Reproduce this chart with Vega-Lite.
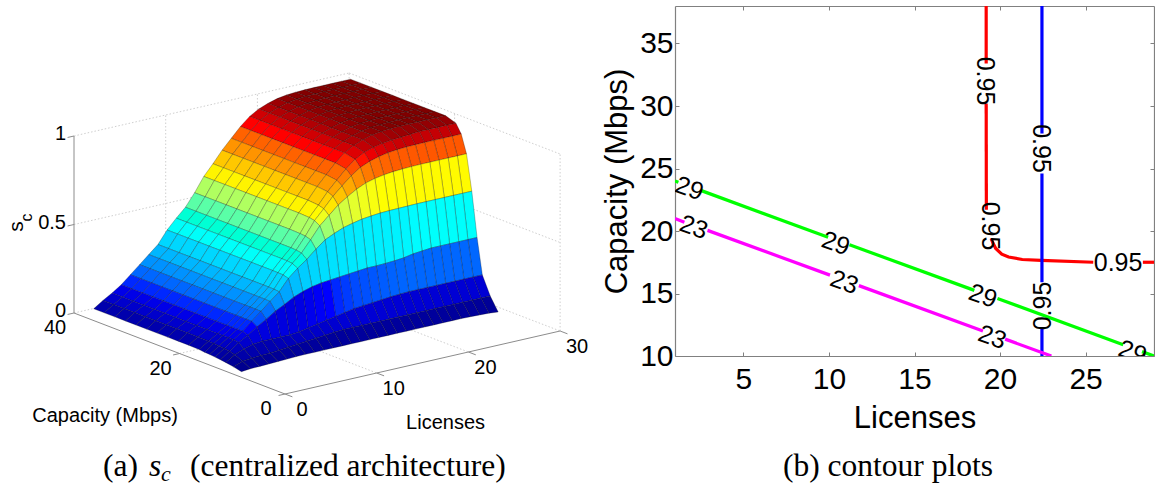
{"$schema":"https://vega.github.io/schema/vega-lite/v6.json","background":"white","padding":{"left":0,"top":5,"right":0,"bottom":0},"spacing":75,"bounds":"flush","config":{"view":{"stroke":null},"font":"Liberation Sans","axis":{"grid":false}},
"datasets":{
"frame":[
{"id":"g1","kind":"grid","L":0,"C":40,"s":1},{"id":"g1","kind":"grid","L":30,"C":40,"s":1},
{"id":"g2","kind":"grid","L":0,"C":40,"s":0.5},{"id":"g2","kind":"grid","L":30,"C":40,"s":0.5},
{"id":"g3","kind":"grid","L":10,"C":40,"s":0},{"id":"g3","kind":"grid","L":10,"C":40,"s":1},
{"id":"g4","kind":"grid","L":20,"C":40,"s":0},{"id":"g4","kind":"grid","L":20,"C":40,"s":1},
{"id":"g5","kind":"grid","L":30,"C":40,"s":0},{"id":"g5","kind":"grid","L":30,"C":40,"s":1},
{"id":"g6","kind":"grid","L":30,"C":40,"s":1},{"id":"g6","kind":"grid","L":30,"C":0,"s":1},
{"id":"g7","kind":"grid","L":30,"C":40,"s":0.5},{"id":"g7","kind":"grid","L":30,"C":0,"s":0.5},
{"id":"g8","kind":"grid","L":30,"C":20,"s":0},{"id":"g8","kind":"grid","L":30,"C":20,"s":1},
{"id":"g9","kind":"grid","L":30,"C":0,"s":0},{"id":"g9","kind":"grid","L":30,"C":0,"s":1},
{"id":"g10","kind":"grid","L":10,"C":0,"s":0},{"id":"g10","kind":"grid","L":10,"C":40,"s":0},
{"id":"g11","kind":"grid","L":20,"C":0,"s":0},{"id":"g11","kind":"grid","L":20,"C":40,"s":0},
{"id":"g12","kind":"grid","L":0,"C":20,"s":0},{"id":"g12","kind":"grid","L":30,"C":20,"s":0},
{"id":"g13","kind":"grid","L":0,"C":40,"s":0},{"id":"g13","kind":"grid","L":30,"C":40,"s":0},
{"id":"g14","kind":"grid","L":30,"C":0,"s":0},{"id":"g14","kind":"grid","L":30,"C":40,"s":0},
{"id":"a1","kind":"axis","L":0,"C":40,"s":0},{"id":"a1","kind":"axis","L":0,"C":0,"s":0},
{"id":"a2","kind":"axis","L":0,"C":0,"s":0},{"id":"a2","kind":"axis","L":30,"C":0,"s":0},
{"id":"a3","kind":"axis","L":0,"C":40,"s":0},{"id":"a3","kind":"axis","L":0,"C":40,"s":1},
{"id":"t1","kind":"axis","L":0,"C":40,"s":0},{"id":"t1","kind":"axis","L":-0.7,"C":40,"s":0},
{"id":"t2","kind":"axis","L":0,"C":40,"s":0.5},{"id":"t2","kind":"axis","L":-0.7,"C":40,"s":0.5},
{"id":"t3","kind":"axis","L":0,"C":40,"s":1},{"id":"t3","kind":"axis","L":-0.7,"C":40,"s":1},
{"id":"t4","kind":"axis","L":0,"C":20,"s":0},{"id":"t4","kind":"axis","L":-0.7,"C":20,"s":0},
{"id":"t5","kind":"axis","L":0,"C":0,"s":0},{"id":"t5","kind":"axis","L":-0.7,"C":0,"s":0},
{"id":"t6","kind":"axis","L":0,"C":0,"s":0},{"id":"t6","kind":"axis","L":0,"C":-1.4,"s":0},
{"id":"t7","kind":"axis","L":10,"C":0,"s":0},{"id":"t7","kind":"axis","L":10,"C":-1.4,"s":0},
{"id":"t8","kind":"axis","L":20,"C":0,"s":0},{"id":"t8","kind":"axis","L":20,"C":-1.4,"s":0},
{"id":"t9","kind":"axis","L":30,"C":0,"s":0},{"id":"t9","kind":"axis","L":30,"C":-1.4,"s":0},
{"kind":"zt","t":"0","L":0,"C":40,"s":0},{"kind":"zt","t":"0.5","L":0,"C":40,"s":0.5},{"kind":"zt","t":"1","L":0,"C":40,"s":1},
{"kind":"ct","t":"0","L":0,"C":0,"s":0},{"kind":"ct","t":"20","L":0,"C":20,"s":0},{"kind":"ct","t":"40","L":0,"C":40,"s":0},
{"kind":"lt","t":"0","L":0,"C":0,"s":0},{"kind":"lt","t":"10","L":10,"C":0,"s":0},{"kind":"lt","t":"20","L":20,"C":0,"s":0},{"kind":"lt","t":"30","L":30,"C":0,"s":0},
{"kind":"tc","t":"Capacity (Mbps)","L":0,"C":20,"s":0},{"kind":"tl","t":"Licenses","L":15,"C":0,"s":0},
{"kind":"ts","t":"s","L":0,"C":40,"s":0.5},{"kind":"tz","t":"c","L":0,"C":40,"s":0.5},
{"kind":"cap1","t":"(a)","L":0,"C":0,"s":0},{"kind":"cap2","t":"s","L":0,"C":0,"s":0},{"kind":"cap3","t":"c","L":0,"C":0,"s":0},{"kind":"cap4","t":"(centralized architecture)","L":0,"C":0,"s":0},{"kind":"cap5","t":"(b) contour plots","L":0,"C":0,"s":0}
],
"grid":[
{"L":29,"C":38,"s":1},{"L":29,"C":36,"s":1},{"L":29,"C":34,"s":1},{"L":29,"C":32,"s":1},{"L":29,"C":30,"s":1},{"L":29,"C":28,"s":1},{"L":29,"C":26,"s":1},{"L":29,"C":24,"s":1},{"L":29,"C":22,"s":1},{"L":29,"C":20,"s":1},{"L":29,"C":18,"s":0.98},{"L":29,"C":17,"s":0.93},{"L":29,"C":16,"s":0.83},{"L":29,"C":15,"s":0.63},{"L":29,"C":14,"s":0.38},{"L":29,"C":13,"s":0.18},{"L":29,"C":11.5,"s":0.078},{"L":29,"C":10,"s":0.005},
{"L":28,"C":38,"s":1},{"L":28,"C":36,"s":1},{"L":28,"C":34,"s":1},{"L":28,"C":32,"s":1},{"L":28,"C":30,"s":1},{"L":28,"C":28,"s":1},{"L":28,"C":26,"s":1},{"L":28,"C":24,"s":1},{"L":28,"C":22,"s":1},{"L":28,"C":20,"s":1},{"L":28,"C":18,"s":0.98},{"L":28,"C":17,"s":0.93},{"L":28,"C":16,"s":0.83},{"L":28,"C":15,"s":0.63},{"L":28,"C":14,"s":0.38},{"L":28,"C":13,"s":0.18},{"L":28,"C":11.5,"s":0.078},{"L":28,"C":10,"s":0.01},
{"L":27,"C":38,"s":1},{"L":27,"C":36,"s":1},{"L":27,"C":34,"s":1},{"L":27,"C":32,"s":1},{"L":27,"C":30,"s":1},{"L":27,"C":28,"s":1},{"L":27,"C":26,"s":1},{"L":27,"C":24,"s":1},{"L":27,"C":22,"s":1},{"L":27,"C":20,"s":1},{"L":27,"C":18,"s":0.98},{"L":27,"C":17,"s":0.93},{"L":27,"C":16,"s":0.83},{"L":27,"C":15,"s":0.63},{"L":27,"C":14,"s":0.38},{"L":27,"C":13,"s":0.18},{"L":27,"C":11.5,"s":0.078},{"L":27,"C":10,"s":0.012},
{"L":26,"C":38,"s":1},{"L":26,"C":36,"s":1},{"L":26,"C":34,"s":1},{"L":26,"C":32,"s":1},{"L":26,"C":30,"s":1},{"L":26,"C":28,"s":1},{"L":26,"C":26,"s":1},{"L":26,"C":24,"s":1},{"L":26,"C":22,"s":1},{"L":26,"C":20,"s":1},{"L":26,"C":18,"s":0.98},{"L":26,"C":17,"s":0.93},{"L":26,"C":16,"s":0.83},{"L":26,"C":15,"s":0.63},{"L":26,"C":14,"s":0.38},{"L":26,"C":13,"s":0.18},{"L":26,"C":11.5,"s":0.078},{"L":26,"C":10,"s":0.014},
{"L":25,"C":38,"s":1},{"L":25,"C":36,"s":1},{"L":25,"C":34,"s":1},{"L":25,"C":32,"s":1},{"L":25,"C":30,"s":1},{"L":25,"C":28,"s":1},{"L":25,"C":26,"s":1},{"L":25,"C":24,"s":1},{"L":25,"C":22,"s":1},{"L":25,"C":20,"s":1},{"L":25,"C":18,"s":0.98},{"L":25,"C":17,"s":0.93},{"L":25,"C":16,"s":0.83},{"L":25,"C":15,"s":0.63},{"L":25,"C":14,"s":0.38},{"L":25,"C":13,"s":0.18},{"L":25,"C":11.5,"s":0.078},{"L":25,"C":10,"s":0.015},
{"L":24,"C":38,"s":0.999},{"L":24,"C":36,"s":0.999},{"L":24,"C":34,"s":0.999},{"L":24,"C":32,"s":0.999},{"L":24,"C":30,"s":0.999},{"L":24,"C":28,"s":0.999},{"L":24,"C":26,"s":0.999},{"L":24,"C":24,"s":0.999},{"L":24,"C":22,"s":0.999},{"L":24,"C":20,"s":0.999},{"L":24,"C":18,"s":0.976},{"L":24,"C":17,"s":0.929},{"L":24,"C":16,"s":0.83},{"L":24,"C":15,"s":0.63},{"L":24,"C":14,"s":0.38},{"L":24,"C":13,"s":0.18},{"L":24,"C":11.5,"s":0.078},{"L":24,"C":10,"s":0.015},
{"L":23,"C":38,"s":0.997},{"L":23,"C":36,"s":0.997},{"L":23,"C":34,"s":0.997},{"L":23,"C":32,"s":0.997},{"L":23,"C":30,"s":0.997},{"L":23,"C":28,"s":0.997},{"L":23,"C":26,"s":0.997},{"L":23,"C":24,"s":0.997},{"L":23,"C":22,"s":0.997},{"L":23,"C":20,"s":0.997},{"L":23,"C":18,"s":0.972},{"L":23,"C":17,"s":0.928},{"L":23,"C":16,"s":0.829},{"L":23,"C":15,"s":0.63},{"L":23,"C":14,"s":0.375},{"L":23,"C":13,"s":0.18},{"L":23,"C":11.5,"s":0.078},{"L":23,"C":10,"s":0.015},
{"L":22,"C":38,"s":0.993},{"L":22,"C":36,"s":0.993},{"L":22,"C":34,"s":0.993},{"L":22,"C":32,"s":0.993},{"L":22,"C":30,"s":0.993},{"L":22,"C":28,"s":0.993},{"L":22,"C":26,"s":0.993},{"L":22,"C":24,"s":0.993},{"L":22,"C":22,"s":0.993},{"L":22,"C":20,"s":0.993},{"L":22,"C":18,"s":0.968},{"L":22,"C":17,"s":0.925},{"L":22,"C":16,"s":0.827},{"L":22,"C":15,"s":0.629},{"L":22,"C":14,"s":0.37},{"L":22,"C":13,"s":0.18},{"L":22,"C":11.5,"s":0.078},{"L":22,"C":10,"s":0.015},
{"L":21,"C":38,"s":0.985},{"L":21,"C":36,"s":0.985},{"L":21,"C":34,"s":0.985},{"L":21,"C":32,"s":0.985},{"L":21,"C":30,"s":0.985},{"L":21,"C":28,"s":0.985},{"L":21,"C":26,"s":0.985},{"L":21,"C":24,"s":0.985},{"L":21,"C":22,"s":0.985},{"L":21,"C":20,"s":0.985},{"L":21,"C":18,"s":0.961},{"L":21,"C":17,"s":0.919},{"L":21,"C":16,"s":0.824},{"L":21,"C":15,"s":0.628},{"L":21,"C":14,"s":0.36},{"L":21,"C":13,"s":0.18},{"L":21,"C":11.5,"s":0.078},{"L":21,"C":10,"s":0.015},
{"L":20,"C":38,"s":0.97},{"L":20,"C":36,"s":0.97},{"L":20,"C":34,"s":0.97},{"L":20,"C":32,"s":0.97},{"L":20,"C":30,"s":0.97},{"L":20,"C":28,"s":0.97},{"L":20,"C":26,"s":0.97},{"L":20,"C":24,"s":0.97},{"L":20,"C":22,"s":0.97},{"L":20,"C":20,"s":0.97},{"L":20,"C":18,"s":0.951},{"L":20,"C":17,"s":0.909},{"L":20,"C":16,"s":0.818},{"L":20,"C":15,"s":0.627},{"L":20,"C":14,"s":0.355},{"L":20,"C":13,"s":0.178},{"L":20,"C":11.5,"s":0.078},{"L":20,"C":10,"s":0.015},
{"L":19,"C":38,"s":0.95},{"L":19,"C":36,"s":0.95},{"L":19,"C":34,"s":0.95},{"L":19,"C":32,"s":0.95},{"L":19,"C":30,"s":0.95},{"L":19,"C":28,"s":0.95},{"L":19,"C":26,"s":0.95},{"L":19,"C":24,"s":0.95},{"L":19,"C":22,"s":0.95},{"L":19,"C":20,"s":0.95},{"L":19,"C":18,"s":0.934},{"L":19,"C":17,"s":0.894},{"L":19,"C":16,"s":0.809},{"L":19,"C":15,"s":0.625},{"L":19,"C":14,"s":0.352},{"L":19,"C":13,"s":0.175},{"L":19,"C":11.5,"s":0.078},{"L":19,"C":10,"s":0.015},
{"L":18,"C":38,"s":0.92},{"L":18,"C":36,"s":0.92},{"L":18,"C":34,"s":0.92},{"L":18,"C":32,"s":0.92},{"L":18,"C":30,"s":0.92},{"L":18,"C":28,"s":0.92},{"L":18,"C":26,"s":0.92},{"L":18,"C":24,"s":0.92},{"L":18,"C":22,"s":0.92},{"L":18,"C":20,"s":0.92},{"L":18,"C":18,"s":0.906},{"L":18,"C":17,"s":0.872},{"L":18,"C":16,"s":0.795},{"L":18,"C":15,"s":0.62},{"L":18,"C":14,"s":0.35},{"L":18,"C":13,"s":0.17},{"L":18,"C":11.5,"s":0.078},{"L":18,"C":10,"s":0.015},
{"L":17,"C":38,"s":0.875},{"L":17,"C":36,"s":0.875},{"L":17,"C":34,"s":0.875},{"L":17,"C":32,"s":0.875},{"L":17,"C":30,"s":0.875},{"L":17,"C":28,"s":0.875},{"L":17,"C":26,"s":0.875},{"L":17,"C":24,"s":0.875},{"L":17,"C":22,"s":0.875},{"L":17,"C":20,"s":0.875},{"L":17,"C":18,"s":0.864},{"L":17,"C":17,"s":0.837},{"L":17,"C":16,"s":0.772},{"L":17,"C":15,"s":0.614},{"L":17,"C":14,"s":0.35},{"L":17,"C":13,"s":0.165},{"L":17,"C":11.5,"s":0.078},{"L":17,"C":10,"s":0.015},
{"L":16,"C":38,"s":0.82},{"L":16,"C":36,"s":0.82},{"L":16,"C":34,"s":0.82},{"L":16,"C":32,"s":0.82},{"L":16,"C":30,"s":0.82},{"L":16,"C":28,"s":0.82},{"L":16,"C":26,"s":0.82},{"L":16,"C":24,"s":0.82},{"L":16,"C":22,"s":0.82},{"L":16,"C":20,"s":0.82},{"L":16,"C":18,"s":0.812},{"L":16,"C":17,"s":0.791},{"L":16,"C":16,"s":0.741},{"L":16,"C":15,"s":0.603},{"L":16,"C":14,"s":0.345},{"L":16,"C":13,"s":0.16},{"L":16,"C":11.5,"s":0.078},{"L":16,"C":10,"s":0.015},
{"L":15,"C":38,"s":0.765},{"L":15,"C":36,"s":0.765},{"L":15,"C":34,"s":0.765},{"L":15,"C":32,"s":0.765},{"L":15,"C":30,"s":0.765},{"L":15,"C":28,"s":0.765},{"L":15,"C":26,"s":0.765},{"L":15,"C":24,"s":0.765},{"L":15,"C":22,"s":0.765},{"L":15,"C":20,"s":0.765},{"L":15,"C":18,"s":0.759},{"L":15,"C":17,"s":0.744},{"L":15,"C":16,"s":0.706},{"L":15,"C":15,"s":0.59},{"L":15,"C":14,"s":0.34},{"L":15,"C":13,"s":0.155},{"L":15,"C":11.5,"s":0.078},{"L":15,"C":10,"s":0.015},
{"L":14,"C":38,"s":0.7},{"L":14,"C":36,"s":0.7},{"L":14,"C":34,"s":0.7},{"L":14,"C":32,"s":0.7},{"L":14,"C":30,"s":0.7},{"L":14,"C":28,"s":0.7},{"L":14,"C":26,"s":0.7},{"L":14,"C":24,"s":0.7},{"L":14,"C":22,"s":0.7},{"L":14,"C":20,"s":0.7},{"L":14,"C":18,"s":0.695},{"L":14,"C":17,"s":0.686},{"L":14,"C":16,"s":0.66},{"L":14,"C":15,"s":0.569},{"L":14,"C":14,"s":0.335},{"L":14,"C":13,"s":0.145},{"L":14,"C":11.5,"s":0.078},{"L":14,"C":10,"s":0.015},
{"L":13,"C":38,"s":0.64},{"L":13,"C":36,"s":0.64},{"L":13,"C":34,"s":0.64},{"L":13,"C":32,"s":0.64},{"L":13,"C":30,"s":0.64},{"L":13,"C":28,"s":0.64},{"L":13,"C":26,"s":0.64},{"L":13,"C":24,"s":0.64},{"L":13,"C":22,"s":0.64},{"L":13,"C":20,"s":0.64},{"L":13,"C":18,"s":0.637},{"L":13,"C":17,"s":0.631},{"L":13,"C":16,"s":0.613},{"L":13,"C":15,"s":0.545},{"L":13,"C":14,"s":0.33},{"L":13,"C":13,"s":0.135},{"L":13,"C":11.5,"s":0.078},{"L":13,"C":10,"s":0.015},
{"L":12,"C":38,"s":0.56},{"L":12,"C":36,"s":0.56},{"L":12,"C":34,"s":0.56},{"L":12,"C":32,"s":0.56},{"L":12,"C":30,"s":0.56},{"L":12,"C":28,"s":0.56},{"L":12,"C":26,"s":0.56},{"L":12,"C":24,"s":0.56},{"L":12,"C":22,"s":0.56},{"L":12,"C":20,"s":0.56},{"L":12,"C":18,"s":0.558},{"L":12,"C":17,"s":0.555},{"L":12,"C":16,"s":0.546},{"L":12,"C":15,"s":0.504},{"L":12,"C":14,"s":0.325},{"L":12,"C":13,"s":0.125},{"L":12,"C":11.5,"s":0.075},{"L":12,"C":10,"s":0.015},
{"L":11,"C":38,"s":0.49},{"L":11,"C":36,"s":0.49},{"L":11,"C":34,"s":0.49},{"L":11,"C":32,"s":0.49},{"L":11,"C":30,"s":0.49},{"L":11,"C":28,"s":0.49},{"L":11,"C":26,"s":0.49},{"L":11,"C":24,"s":0.49},{"L":11,"C":22,"s":0.49},{"L":11,"C":20,"s":0.49},{"L":11,"C":18,"s":0.49},{"L":11,"C":17,"s":0.488},{"L":11,"C":16,"s":0.483},{"L":11,"C":15,"s":0.458},{"L":11,"C":14,"s":0.315},{"L":11,"C":13,"s":0.115},{"L":11,"C":11.5,"s":0.07},{"L":11,"C":10,"s":0.015},
{"L":10,"C":38,"s":0.44},{"L":10,"C":36,"s":0.44},{"L":10,"C":34,"s":0.44},{"L":10,"C":32,"s":0.44},{"L":10,"C":30,"s":0.44},{"L":10,"C":28,"s":0.44},{"L":10,"C":26,"s":0.44},{"L":10,"C":24,"s":0.44},{"L":10,"C":22,"s":0.44},{"L":10,"C":20,"s":0.44},{"L":10,"C":18,"s":0.44},{"L":10,"C":17,"s":0.439},{"L":10,"C":16,"s":0.436},{"L":10,"C":15,"s":0.42},{"L":10,"C":14,"s":0.3},{"L":10,"C":13,"s":0.105},{"L":10,"C":11.5,"s":0.065},{"L":10,"C":10,"s":0.015},
{"L":9,"C":38,"s":0.385},{"L":9,"C":36,"s":0.385},{"L":9,"C":34,"s":0.385},{"L":9,"C":32,"s":0.385},{"L":9,"C":30,"s":0.385},{"L":9,"C":28,"s":0.385},{"L":9,"C":26,"s":0.385},{"L":9,"C":24,"s":0.385},{"L":9,"C":22,"s":0.385},{"L":9,"C":20,"s":0.385},{"L":9,"C":18,"s":0.385},{"L":9,"C":17,"s":0.384},{"L":9,"C":16,"s":0.383},{"L":9,"C":15,"s":0.374},{"L":9,"C":14,"s":0.28},{"L":9,"C":13,"s":0.095},{"L":9,"C":11.5,"s":0.06},{"L":9,"C":10,"s":0.015},
{"L":8,"C":38,"s":0.315},{"L":8,"C":36,"s":0.315},{"L":8,"C":34,"s":0.315},{"L":8,"C":32,"s":0.315},{"L":8,"C":30,"s":0.315},{"L":8,"C":28,"s":0.315},{"L":8,"C":26,"s":0.315},{"L":8,"C":24,"s":0.315},{"L":8,"C":22,"s":0.315},{"L":8,"C":20,"s":0.315},{"L":8,"C":18,"s":0.315},{"L":8,"C":17,"s":0.315},{"L":8,"C":16,"s":0.314},{"L":8,"C":15,"s":0.311},{"L":8,"C":14,"s":0.25},{"L":8,"C":13,"s":0.09},{"L":8,"C":11.5,"s":0.055},{"L":8,"C":10,"s":0.015},
{"L":7,"C":38,"s":0.27},{"L":7,"C":36,"s":0.27},{"L":7,"C":34,"s":0.27},{"L":7,"C":32,"s":0.27},{"L":7,"C":30,"s":0.27},{"L":7,"C":28,"s":0.27},{"L":7,"C":26,"s":0.27},{"L":7,"C":24,"s":0.27},{"L":7,"C":22,"s":0.27},{"L":7,"C":20,"s":0.27},{"L":7,"C":18,"s":0.27},{"L":7,"C":17,"s":0.27},{"L":7,"C":16,"s":0.27},{"L":7,"C":15,"s":0.268},{"L":7,"C":14,"s":0.225},{"L":7,"C":13,"s":0.09},{"L":7,"C":11.5,"s":0.05},{"L":7,"C":10,"s":0.014},
{"L":6,"C":38,"s":0.225},{"L":6,"C":36,"s":0.225},{"L":6,"C":34,"s":0.225},{"L":6,"C":32,"s":0.225},{"L":6,"C":30,"s":0.225},{"L":6,"C":28,"s":0.225},{"L":6,"C":26,"s":0.225},{"L":6,"C":24,"s":0.225},{"L":6,"C":22,"s":0.225},{"L":6,"C":20,"s":0.225},{"L":6,"C":18,"s":0.225},{"L":6,"C":17,"s":0.225},{"L":6,"C":16,"s":0.225},{"L":6,"C":15,"s":0.224},{"L":6,"C":14,"s":0.19},{"L":6,"C":13,"s":0.09},{"L":6,"C":11.5,"s":0.045},{"L":6,"C":10,"s":0.012},
{"L":5,"C":38,"s":0.18},{"L":5,"C":36,"s":0.18},{"L":5,"C":34,"s":0.18},{"L":5,"C":32,"s":0.18},{"L":5,"C":30,"s":0.18},{"L":5,"C":28,"s":0.18},{"L":5,"C":26,"s":0.18},{"L":5,"C":24,"s":0.18},{"L":5,"C":22,"s":0.18},{"L":5,"C":20,"s":0.18},{"L":5,"C":18,"s":0.18},{"L":5,"C":17,"s":0.18},{"L":5,"C":16,"s":0.18},{"L":5,"C":15,"s":0.18},{"L":5,"C":14,"s":0.16},{"L":5,"C":13,"s":0.09},{"L":5,"C":11.5,"s":0.04},{"L":5,"C":10,"s":0.01},
{"L":4,"C":38,"s":0.135},{"L":4,"C":36,"s":0.135},{"L":4,"C":34,"s":0.135},{"L":4,"C":32,"s":0.135},{"L":4,"C":30,"s":0.135},{"L":4,"C":28,"s":0.135},{"L":4,"C":26,"s":0.135},{"L":4,"C":24,"s":0.135},{"L":4,"C":22,"s":0.135},{"L":4,"C":20,"s":0.135},{"L":4,"C":18,"s":0.135},{"L":4,"C":17,"s":0.135},{"L":4,"C":16,"s":0.135},{"L":4,"C":15,"s":0.135},{"L":4,"C":14,"s":0.125},{"L":4,"C":13,"s":0.085},{"L":4,"C":11.5,"s":0.038},{"L":4,"C":10,"s":0.008},
{"L":3,"C":38,"s":0.1},{"L":3,"C":36,"s":0.1},{"L":3,"C":34,"s":0.1},{"L":3,"C":32,"s":0.1},{"L":3,"C":30,"s":0.1},{"L":3,"C":28,"s":0.1},{"L":3,"C":26,"s":0.1},{"L":3,"C":24,"s":0.1},{"L":3,"C":22,"s":0.1},{"L":3,"C":20,"s":0.1},{"L":3,"C":18,"s":0.1},{"L":3,"C":17,"s":0.1},{"L":3,"C":16,"s":0.1},{"L":3,"C":15,"s":0.1},{"L":3,"C":14,"s":0.095},{"L":3,"C":13,"s":0.07},{"L":3,"C":11.5,"s":0.035},{"L":3,"C":10,"s":0.006},
{"L":2,"C":38,"s":0.07},{"L":2,"C":36,"s":0.07},{"L":2,"C":34,"s":0.07},{"L":2,"C":32,"s":0.07},{"L":2,"C":30,"s":0.07},{"L":2,"C":28,"s":0.07},{"L":2,"C":26,"s":0.07},{"L":2,"C":24,"s":0.07},{"L":2,"C":22,"s":0.07},{"L":2,"C":20,"s":0.07},{"L":2,"C":18,"s":0.069},{"L":2,"C":17,"s":0.067},{"L":2,"C":16,"s":0.065},{"L":2,"C":15,"s":0.062},{"L":2,"C":14,"s":0.058},{"L":2,"C":13,"s":0.05},{"L":2,"C":11.5,"s":0.03},{"L":2,"C":10,"s":0.005},
{"L":1,"C":38,"s":0.035},{"L":1,"C":36,"s":0.035},{"L":1,"C":34,"s":0.035},{"L":1,"C":32,"s":0.035},{"L":1,"C":30,"s":0.035},{"L":1,"C":28,"s":0.035},{"L":1,"C":26,"s":0.035},{"L":1,"C":24,"s":0.035},{"L":1,"C":22,"s":0.035},{"L":1,"C":20,"s":0.035},{"L":1,"C":18,"s":0.033},{"L":1,"C":17,"s":0.03},{"L":1,"C":16,"s":0.028},{"L":1,"C":15,"s":0.025},{"L":1,"C":14,"s":0.022},{"L":1,"C":13,"s":0.018},{"L":1,"C":11.5,"s":0.01},{"L":1,"C":10,"s":0}
],
"contours":[
{"level":"A","seg":1,"L":19.19,"C":38},{"level":"A","seg":1,"L":19.19,"C":33.4},
{"level":"A","seg":2,"L":19.19,"C":30.2},{"level":"A","seg":2,"L":19.2,"C":21.7},
{"level":"A","seg":3,"L":19.48,"C":19.4},{"level":"A","seg":3,"L":19.6,"C":19},{"level":"A","seg":3,"L":19.75,"C":18.6},{"level":"A","seg":3,"L":20.1,"C":18.15},{"level":"A","seg":3,"L":20.5,"C":17.92},{"level":"A","seg":3,"L":21.3,"C":17.72},{"level":"A","seg":3,"L":22.4,"C":17.65},{"level":"A","seg":3,"L":25.45,"C":17.5},
{"level":"A","seg":4,"L":28.35,"C":17.5},{"level":"A","seg":4,"L":29,"C":17.5},
{"level":"B","seg":1,"L":22.45,"C":38},{"level":"B","seg":1,"L":22.45,"C":27.8},
{"level":"B","seg":2,"L":22.45,"C":24.6},{"level":"B","seg":2,"L":22.45,"C":15.9},
{"level":"B","seg":3,"L":22.45,"C":12.2},{"level":"B","seg":3,"L":22.45,"C":10},
{"level":"C","seg":1,"L":1,"C":24},{"level":"C","seg":1,"L":1.2,"C":23.9},
{"level":"C","seg":2,"L":2.5,"C":23.25},{"level":"C","seg":2,"L":9.95,"C":19.5},
{"level":"C","seg":3,"L":11.2,"C":18.9},{"level":"C","seg":3,"L":18.5,"C":15.25},
{"level":"C","seg":4,"L":19.85,"C":14.6},{"level":"C","seg":4,"L":27.2,"C":10.9},
{"level":"C","seg":5,"L":28.3,"C":10.35},{"level":"C","seg":5,"L":29,"C":10},
{"level":"D","seg":1,"L":1,"C":21},{"level":"D","seg":1,"L":1.55,"C":20.7},
{"level":"D","seg":2,"L":2.9,"C":20.05},{"level":"D","seg":2,"L":10.06,"C":16.47},
{"level":"D","seg":3,"L":11.75,"C":15.63},{"level":"D","seg":3,"L":19,"C":12},
{"level":"D","seg":4,"L":20.3,"C":11.35},{"level":"D","seg":4,"L":23,"C":10}
],
"clabels":[
{"t":"0.95","L":19.12,"C":32,"o":"down"},{"t":"0.95","L":22.4,"C":26.6,"o":"down"},{"t":"0.95","L":19.4,"C":20.4,"o":"down"},{"t":"0.95","L":22.54,"C":14,"o":"up"},{"t":"0.95","L":26.9,"C":17.44,"o":"flat"},
{"t":"29","L":1.84,"C":23.4,"o":"slope"},{"t":"29","L":10.4,"C":19,"o":"slope"},{"t":"29","L":19,"C":14.8,"o":"slope"},{"t":"29","L":27.75,"C":10.3,"o":"slope"},
{"t":"23","L":2.1,"C":20.3,"o":"slope"},{"t":"23","L":10.9,"C":15.9,"o":"slope"},{"t":"23","L":19.55,"C":11.5,"o":"slope"}
]},
"hconcat":[
{"width":600,"height":481,
"encoding":{"x":{"field":"u","type":"quantitative","scale":{"domain":[0,600],"nice":false,"zero":false},"axis":null},"y":{"field":"v","type":"quantitative","scale":{"domain":[5,486],"reverse":true,"nice":false,"zero":false},"axis":null}},
"layer":[
{"data":{"name":"frame"},"transform":[{"calculate":"285+9.17*datum.L-5.275*datum.C","as":"u"},{"calculate":"393-2.1*datum.L-2.025*datum.C-177*datum.s","as":"v"}],
"layer":[
{"transform":[{"filter":"datum.kind=='grid'"}],"mark":{"type":"line","stroke":"#cfcfcf","strokeWidth":1,"strokeDash":[1.5,2]},"encoding":{"detail":{"field":"id"}}},
{"transform":[{"filter":"datum.kind=='axis'"}],"mark":{"type":"line","stroke":"#8c8c8c","strokeWidth":1},"encoding":{"detail":{"field":"id"}}},
{"transform":[{"filter":"datum.kind=='zt'"}],"mark":{"type":"text","align":"right","baseline":"middle","dx":-8,"dy":-2,"fontSize":20,"font":"Liberation Sans"},"encoding":{"text":{"field":"t"}}},
{"transform":[{"filter":"datum.kind=='ct'"}],"mark":{"type":"text","align":"center","baseline":"middle","dx":-19,"dy":15,"fontSize":20,"font":"Liberation Sans"},"encoding":{"text":{"field":"t"}}},
{"transform":[{"filter":"datum.kind=='lt'"}],"mark":{"type":"text","align":"center","baseline":"middle","dx":17,"dy":16,"fontSize":20,"font":"Liberation Sans"},"encoding":{"text":{"field":"t"}}},
{"transform":[{"filter":"datum.kind=='tc'"}],"mark":{"type":"text","align":"center","baseline":"middle","dx":-74.5,"dy":62,"fontSize":20,"font":"Liberation Sans"},"encoding":{"text":{"field":"t"}}},
{"transform":[{"filter":"datum.kind=='tl'"}],"mark":{"type":"text","align":"center","baseline":"middle","dx":23,"dy":60,"fontSize":20,"font":"Liberation Sans"},"encoding":{"text":{"field":"t"}}},
{"transform":[{"filter":"datum.kind=='ts'"}],"mark":{"type":"text","align":"center","baseline":"middle","angle":270,"dx":-2,"dy":-57,"fontSize":21,"font":"Liberation Sans"},"encoding":{"text":{"field":"t"}}},
{"transform":[{"filter":"datum.kind=='tz'"}],"mark":{"type":"text","align":"center","baseline":"middle","angle":270,"dx":7,"dy":-47,"fontSize":16,"font":"Liberation Sans"},"encoding":{"text":{"field":"t"}}},
{"transform":[{"filter":"datum.kind=='cap1'"}],"mark":{"type":"text","align":"left","baseline":"alphabetic","dx":-182,"dy":82,"fontSize":31.5,"font":"Liberation Serif"},"encoding":{"text":{"field":"t"}}},
{"transform":[{"filter":"datum.kind=='cap2'"}],"mark":{"type":"text","align":"left","baseline":"alphabetic","dx":-136,"dy":82,"fontSize":31.5,"fontStyle":"italic","font":"Liberation Serif"},"encoding":{"text":{"field":"t"}}},
{"transform":[{"filter":"datum.kind=='cap3'"}],"mark":{"type":"text","align":"left","baseline":"alphabetic","dx":-124,"dy":87,"fontSize":22,"fontStyle":"italic","font":"Liberation Serif"},"encoding":{"text":{"field":"t"}}},
{"transform":[{"filter":"datum.kind=='cap4'"}],"mark":{"type":"text","align":"left","baseline":"alphabetic","dx":-95,"dy":82,"fontSize":31.5,"font":"Liberation Serif"},"encoding":{"text":{"field":"t"}}},
{"transform":[{"filter":"datum.kind=='cap5'"}],"mark":{"type":"text","align":"center","baseline":"alphabetic","dx":603,"dy":82,"fontSize":31.5,"font":"Liberation Serif"},"encoding":{"text":{"field":"t"}}}
]},
{"data":{"name":"grid"},"transform":[
{"window":[{"op":"lead","field":"s","as":"sC"},{"op":"lead","field":"C","as":"C2"}],"groupby":["L"],"sort":[{"field":"C","order":"ascending"}]},
{"window":[{"op":"lead","field":"s","as":"sL"},{"op":"lead","field":"sC","as":"sLC"}],"groupby":["C"],"sort":[{"field":"L","order":"ascending"}]},
{"filter":"isValid(datum.C2)&&isValid(datum.sL)"},
{"calculate":"[0,1,2,3,4]","as":"k"},{"flatten":["k"]},
{"calculate":"datum.L+'_'+datum.C","as":"cell"},
{"calculate":"285+9.17*(datum.L+((datum.k==1||datum.k==2)?1:0))-5.275*((datum.k==2||datum.k==3)?datum.C2:datum.C)","as":"u"},
{"calculate":"393-2.1*(datum.L+((datum.k==1||datum.k==2)?1:0))-2.025*((datum.k==2||datum.k==3)?datum.C2:datum.C)-177*[datum.s,datum.sL,datum.sLC,datum.sC,datum.s][datum.k]","as":"v"}],
"mark":{"type":"line","filled":true,"stroke":"#000000","strokeOpacity":0.42,"strokeWidth":0.6,"strokeJoin":"round"},
"encoding":{"detail":{"field":"cell"},"order":{"field":"k","type":"quantitative"},"fill":{"field":"s","type":"quantitative","legend":null,"scale":{"domain":[0,0.125,0.375,0.625,0.875,1],"range":["#00008f","#0000ff","#00ffff","#ffff00","#ff0000","#800000"]}}}}
]},
{"width":479,"height":350,
"resolve":{"axis":{"x":"independent","y":"independent"}},
"layer":[
{"data":{"name":"contours"},"mark":{"type":"line","strokeWidth":3.2,"clip":true},
"encoding":{"x":{"field":"L","type":"quantitative","scale":{"domain":[1,29],"nice":false,"zero":false},"axis":{"title":"Licenses","values":[5,10,15,20,25],"orient":"bottom","tickSize":-4,"tickColor":"#808080","domainColor":"#808080","domainWidth":1.2,"labelFontSize":30,"labelColor":"#000","labelPadding":12,"titleFontSize":31,"titleFontWeight":"normal","titleColor":"#000","titlePadding":9,"labelFont":"Liberation Sans","titleFont":"Liberation Sans"}},
"y":{"field":"C","type":"quantitative","scale":{"domain":[10,38],"nice":false,"zero":false},"axis":{"title":"Capacity (Mbps)","values":[10,15,20,25,30,35],"orient":"left","tickSize":-4,"tickColor":"#808080","domainColor":"#808080","domainWidth":1.2,"labelFontSize":30,"labelColor":"#000","labelPadding":6,"titleFontSize":31,"titleFontWeight":"normal","titleColor":"#000","titlePadding":6,"labelFont":"Liberation Sans","titleFont":"Liberation Sans"}},
"stroke":{"field":"level","type":"nominal","legend":null,"scale":{"domain":["A","B","C","D"],"range":["#ff0000","#0000ff","#00ff00","#ff00ff"]}},"detail":{"field":"seg"}}},
{"data":{"name":"clabels"},"mark":{"type":"text","align":"center","baseline":"middle","fontSize":25,"font":"Liberation Sans","clip":true,"color":"#000"},
"encoding":{"x":{"field":"L","type":"quantitative","scale":{"domain":[1,29],"nice":false,"zero":false},"axis":{"orient":"top","title":null,"labels":false,"values":[5,10,15,20,25],"tickSize":-4,"tickColor":"#808080","domainColor":"#808080","domainWidth":1.2}},
"y":{"field":"C","type":"quantitative","scale":{"domain":[10,38],"nice":false,"zero":false},"axis":{"orient":"right","title":null,"labels":false,"values":[10,15,20,25,30,35],"tickSize":-4,"tickColor":"#808080","domainColor":"#808080","domainWidth":1.2}},
"text":{"field":"t"},
"angle":{"field":"o","type":"nominal","legend":null,"scale":{"type":"ordinal","domain":["down","up","flat","slope"],"range":[90,270,0,20]}}}}
]}
]}
